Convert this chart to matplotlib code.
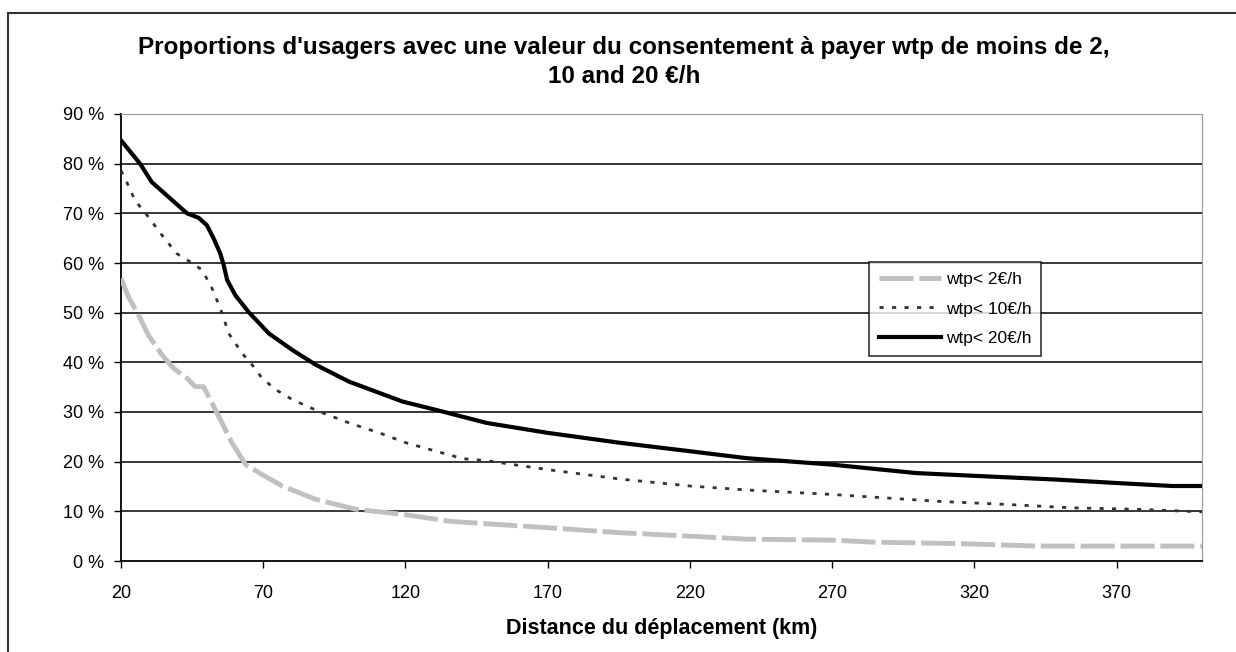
import matplotlib
matplotlib.use("Agg")
import matplotlib.pyplot as plt
from matplotlib.lines import Line2D

plt.rcParams["font.family"] = ["Liberation Sans", "DejaVu Sans"]

# Distance (km) et proportions (%)
km_2 = [20, 22.6, 26.7, 29.6, 34.4, 38.5, 43.2, 46.1, 49, 52, 55.5, 59, 63.8,
        69.6, 76.7, 88.5, 102.6, 119, 135.5, 148.5, 170, 195.4, 220, 240, 270,
        284.4, 314.7, 342.8, 384.8, 400]
wtp_2 = [56.9, 53.2, 48.9, 45.5, 41.5, 38.8, 36.8, 35.1, 35.1, 31.8, 27.8, 23.8,
         19.4, 17.4, 15.1, 12.4, 10.4, 9.4, 8.0, 7.5, 6.7, 5.7, 5.0, 4.4, 4.2,
         3.8, 3.5, 3.0, 3.0, 3.0]

km_10 = [20, 22.6, 24.9, 29.6, 34.4, 39.6, 44.4, 48.5, 52, 54.9, 57.9, 62.6,
         66.1, 69.6, 74.4, 80.2, 89.6, 100.2, 110.8, 120.2, 130.8, 140.2, 148.5,
         170, 195.4, 220, 240, 270, 307.7, 331, 354.5, 377.8, 400]
wtp_10 = [78.6, 75.6, 72.6, 69.3, 65.6, 61.9, 60.2, 58.6, 54.9, 50.9, 45.8, 41.8,
          39.5, 36.8, 34.5, 32.5, 30.1, 27.8, 25.8, 23.8, 22.1, 20.6, 20.2,
          18.4, 16.5, 15.1, 14.3, 13.4, 12.0, 11.4, 10.7, 10.4, 9.9]

km_20 = [20, 26.7, 30.8, 36.7, 43.2, 47.3, 50.2, 52.6, 54.9, 56.1, 57.3, 60.2,
         64.9, 72, 80.2, 88.5, 100.2, 119, 133, 148.5, 170, 195.4, 220, 240,
         270, 299.6, 321.8, 348.6, 370, 389.5, 400]
wtp_20 = [84.7, 80, 76.3, 73.3, 70, 69.1, 67.6, 64.9, 61.9, 59.6, 56.6, 53.5,
          50.1, 45.8, 42.5, 39.5, 36.1, 32.1, 30.1, 27.8, 25.8, 23.8, 22.1, 20.7,
          19.4, 17.7, 17.1, 16.4, 15.7, 15.1, 15.1]

x_ticks = [20, 70, 120, 170, 220, 270, 320, 370]
y_ticks = [0, 10, 20, 30, 40, 50, 60, 70, 80, 90]
labels = ["wtp< 2€/h", "wtp< 10€/h", "wtp< 20€/h"]

fig = plt.figure(figsize=(12.36, 6.52), dpi=100)
ax = fig.add_axes([121 / 1236, 1 - 561 / 652, 1081 / 1236, 447 / 652])

# Cadre de la zone de graphique (Excel)
fig.add_artist(Line2D([8 / 1236, 1], [1 - 13 / 652, 1 - 13 / 652],
                      transform=fig.transFigure, color="#333333", lw=1.5))
fig.add_artist(Line2D([8 / 1236, 8 / 1236], [0, 1 - 13 / 652],
                      transform=fig.transFigure, color="#333333", lw=1.5))

for v in y_ticks[1:-1]:
    ax.axhline(v, color="black", lw=1.1, zorder=1)

ax.plot(km_2, wtp_2, color="#c0c0c0", lw=3.5, linestyle=(0, (7, 1.2)),
        label=labels[0], zorder=3)
ax.plot(km_10, wtp_10, color="#333333", lw=2, linestyle=(0, (1.5, 3)),
        label=labels[1], zorder=3)
ax.plot(km_20, wtp_20, color="black", lw=3, label=labels[2], zorder=4)

ax.set_xlim(20, 400)
ax.set_ylim(0, 90)
ax.set_xticks(x_ticks)
ax.set_yticks(y_ticks)
ax.set_yticklabels([f"{v} %" for v in y_ticks])
ax.tick_params(axis="x", length=5, width=1, pad=12, labelsize=13)
ax.tick_params(axis="y", length=5, width=1, pad=7, labelsize=13)

ax.spines["left"].set_color("black")
ax.spines["bottom"].set_color("black")
ax.spines["left"].set_linewidth(1.3)
ax.spines["bottom"].set_linewidth(1.3)
ax.spines["top"].set_color("#999999")
ax.spines["right"].set_color("#999999")

ax.set_xlabel("Distance du déplacement (km)", fontsize=15.5, fontweight="bold",
              labelpad=12)

fig.text(0.505, 1 - 62 / 652,
         "Proportions d'usagers avec une valeur du consentement à payer wtp de moins de 2,\n10 and 20 €/h",
         ha="center", va="center", fontsize=17.5, fontweight="bold",
         linespacing=1.3)

leg = ax.legend(loc="upper left", bbox_to_anchor=(0.692, 0.669), fontsize=12.5,
                frameon=True, fancybox=False, edgecolor="black",
                handlelength=3.6, handletextpad=0.3, borderpad=0.55,
                labelspacing=0.85, borderaxespad=0)
leg.get_frame().set_linewidth(1.2)

fig.savefig("out.png", dpi=100)
